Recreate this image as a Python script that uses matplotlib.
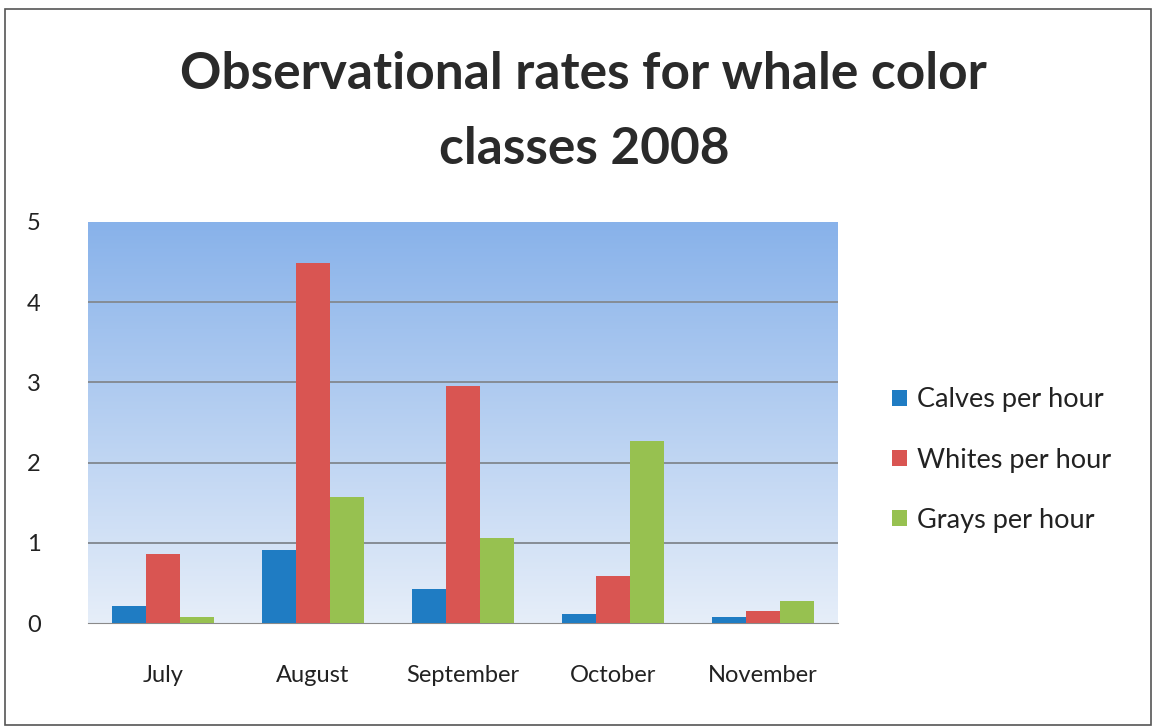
import matplotlib
matplotlib.use('Agg')
import matplotlib.pyplot as plt
import numpy as np
from matplotlib.patches import Rectangle

months = ['July', 'August', 'September', 'October', 'November']
series = ['Calves per hour', 'Whites per hour', 'Grays per hour']
calves = [0.21, 0.91, 0.43, 0.11, 0.075]
whites = [0.86, 4.49, 2.95, 0.59, 0.15]
grays = [0.07, 1.57, 1.06, 2.27, 0.27]
colors = ['#1f7cc3', '#d95552', '#97c150']

plt.rcParams['font.family'] = ['Lato', 'DejaVu Sans']

fig = plt.figure(figsize=(11.56, 7.28), dpi=100)
fig.patch.set_facecolor('white')
# thin frame around the whole chart
fig.patches.append(Rectangle((0.004, 0.004), 0.992, 0.984, transform=fig.transFigure,
                             fill=False, edgecolor='#555555', lw=1.2))

ax = fig.add_axes([88 / 1156, 1 - 623 / 728, 750 / 1156, 401 / 728])

# blue gradient backdrop, darker at the top
grad = np.linspace(0, 1, 256).reshape(-1, 1)
top = np.array([0x88, 0xb2, 0xea]) / 255
bot = np.array([0xe6, 0xee, 0xf9]) / 255
img = bot + (top - bot) * grad[:, :, None]
ax.imshow(img, extent=(-0.5, 4.5, 0, 5), origin='lower', aspect='auto', zorder=0)

x = np.arange(len(months))
w = 0.227
for i, (vals, lab) in enumerate(zip([calves, whites, grays], series)):
    ax.bar(x + (i - 1) * w, vals, width=w, color=colors[i], label=lab, zorder=3)

ax.set_xlim(-0.5, 4.5)
ax.set_ylim(0, 5)
ax.set_yticks(range(6))
ax.set_xticks(x)
ax.set_xticklabels(months, fontsize=17, color='#222222')
ax.tick_params(axis='y', labelsize=17, colors='#222222', length=0, pad=34)
ax.tick_params(axis='x', length=0, pad=30)
for yv in range(1, 5):
    ax.axhline(yv, color='#858c95', lw=1.4, zorder=1)
for s in ['top', 'right', 'left']:
    ax.spines[s].set_visible(False)
ax.spines['bottom'].set_color('#8a8a8a')

fig.text(0.505, 1 - 112 / 728, 'Observational rates for whale color\nclasses 2008',
         ha='center', va='center', fontsize=37, fontweight='bold', color='#2a2a2a',
         linespacing=1.72)

ax.legend(loc='center left', bbox_to_anchor=(1.04, 0.406), frameon=False, fontsize=19.5,
          handlelength=0.55, handleheight=0.55, handletextpad=0.35, labelspacing=1.3,
          labelcolor='#222222')

fig.savefig('out.png', dpi=100)
